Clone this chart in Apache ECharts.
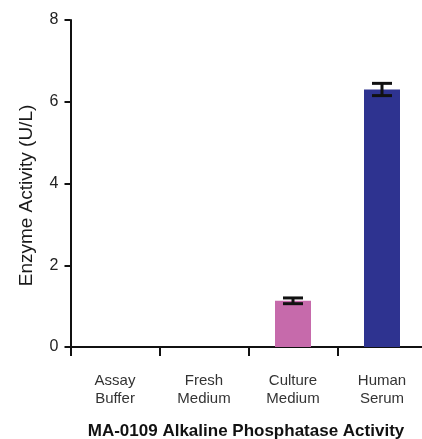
<!DOCTYPE html>
<html><head><meta charset="utf-8">
<script src="https://cdn.jsdelivr.net/npm/echarts@6/dist/echarts.min.js"></script>
<style>html,body{margin:0;padding:0;background:#fff}#c{width:422px;height:439px}</style>
</head><body><div id="c"></div>
<script>
const categories = ["Assay Buffer", "Fresh Medium", "Culture Medium", "Human Serum"];
const values = [0, 0, 1.13, 6.3];
const errors = [0, 0, 0.07, 0.15];
const colors = ["#C66AAB", "#C66AAB", "#C66AAB", "#2E3390"];
const yTicks = [0, 2, 4, 6, 8];
const chartTitle = "MA-0109 Alkaline Phosphatase Activity";
const yTitle = "Enzyme Activity (U/L)";

const font = "'Liberation Sans', Arial, sans-serif";
const chart = echarts.init(document.getElementById('c'), null, {renderer: 'canvas'});
chart.setOption({
  animation: false,
  title: {
    text: chartTitle, left: 241, top: 418, textAlign: 'center',
    textStyle: {fontFamily: font, fontSize: 17, fontWeight: 'bold', color: '#111'}
  },
  grid: {left: 70.5, top: 20, width: 356, bottom: 92, outerBoundsMode: 'none', containLabel: false},
  xAxis: {
    type: 'category', data: categories,
    axisLine: {lineStyle: {color: '#111', width: 2}},
    axisTick: {show: true, length: 9, lineStyle: {color: '#111', width: 2}},
    axisLabel: {
      margin: 25, fontFamily: font, fontSize: 15, color: '#333', lineHeight: 18,
      formatter: v => v.replace(' ', '\n')
    }
  },
  yAxis: {
    type: 'value', min: yTicks[0], max: yTicks[yTicks.length - 1], interval: 2,
    name: yTitle, nameLocation: 'middle', nameRotate: 90, nameGap: 34,
    nameTextStyle: {fontFamily: font, fontSize: 19, color: '#1a1a1a', padding: [0, 24, 0, 0]},
    splitLine: {show: false},
    axisLine: {show: true, lineStyle: {color: '#111', width: 2}},
    axisTick: {show: true, length: 6, lineStyle: {color: '#111', width: 2}},
    axisLabel: {margin: 12, fontFamily: font, fontSize: 16, color: '#222', rotate: 0}
  },
  series: [{
    type: 'bar', barWidth: 36,
    data: values.map((v, i) => ({value: v, itemStyle: {color: colors[i]}}))
  }, {
    type: 'custom',
    data: values.map((v, i) => [i, v, errors[i]]),
    renderItem: (params, api) => {
      const i = api.value(0), v = api.value(1), e = api.value(2);
      if (v === 0) return null;
      const top = api.coord([i, v + e]);
      const bot = api.coord([i, v - e]);
      const hw = 10;
      return {
        type: 'group', children: [
          {type: 'line', shape: {x1: top[0], y1: top[1], x2: bot[0], y2: bot[1]}, style: {stroke: '#111', lineWidth: 3}},
          {type: 'line', shape: {x1: top[0] - hw, y1: top[1], x2: top[0] + hw, y2: top[1]}, style: {stroke: '#111', lineWidth: 3}},
          {type: 'line', shape: {x1: bot[0] - hw, y1: bot[1], x2: bot[0] + hw, y2: bot[1]}, style: {stroke: '#111', lineWidth: 3}}
        ]
      };
    },
    z: 5
  }]
});
</script></body></html>
